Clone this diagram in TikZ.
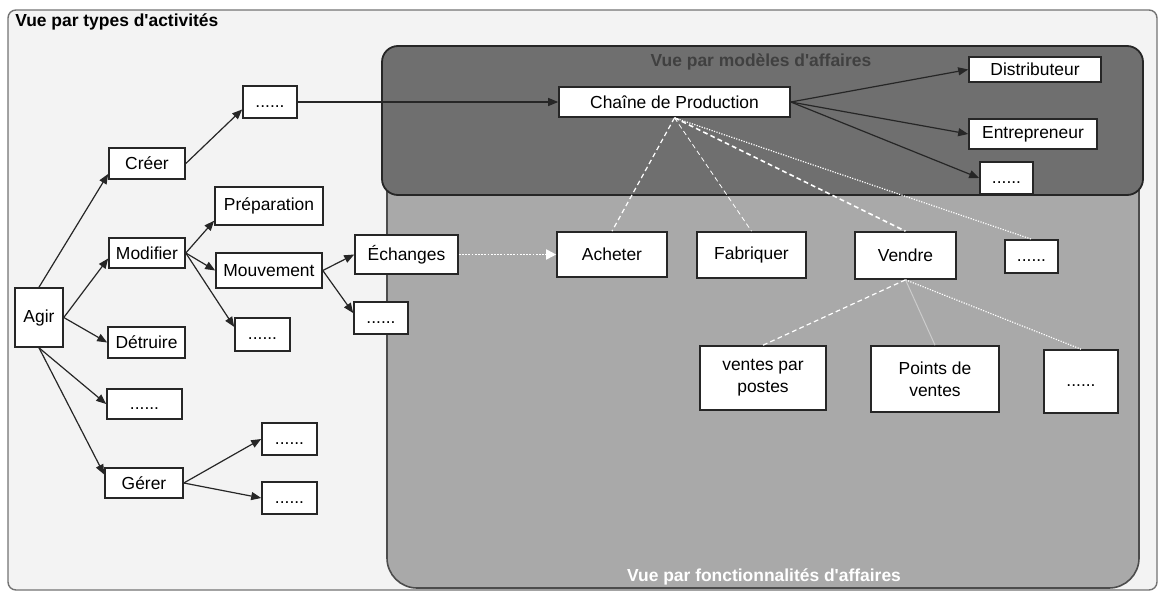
\documentclass[tikz,border=0pt]{standalone}
\usepackage{fontspec}
\setmainfont{Liberation Sans}
\usetikzlibrary{arrows.meta}

\definecolor{fondvue}{HTML}{F3F3F3}
\definecolor{fonce}{HTML}{6F6F6F}
\definecolor{clair}{HTML}{A9A9A9}

\tikzset{
  boite/.style={draw=black!85, fill=white, line width=0.4mm, inner sep=0pt,
    align=center, font=\fontsize{12.4}{15.5}\selectfont},
  points/.style={boite, text height=1.45ex, text depth=0pt},
  fleche/.style={draw=black!85, line width=0.3mm, -{Triangle[length=2.5mm,width=2mm]}},
  lien/.style={draw=white, line width=0.3mm, dash pattern=on 1.2mm off 0.8mm},
  titre/.style={font=\bfseries\fontsize{12.4}{14}\selectfont, inner sep=0pt}
}

\begin{document}
\begin{tikzpicture}[x=0.25mm, y=-0.25mm]
\useasboundingbox (0,0) rectangle (1161,592);
% les trois vues
\draw[fill=fondvue, draw=black!55, line width=0.35mm, rounded corners=2mm] (8,10) rectangle (1157,590);
\filldraw[fill=clair, draw=black!70, line width=0.4mm, rounded corners=7.5mm] (387,150) -- (387,588) -- (1139,588) -- (1139,150);
\draw[fill=fonce, draw=black!85, line width=0.45mm, rounded corners=4mm] (382,46) rectangle (1143,195);
\node[titre, anchor=west] (vtypes) at (15,22) {Vue par types d\textquotesingle activités};
\node[titre, text=black!75] (vmodeles) at (761,62) {Vue par modèles d\textquotesingle affaires};
\node[titre, text=white] (vfonctions) at (764,577) {Vue par fonctionnalités d\textquotesingle affaires};

% types d'activites
\node[boite, minimum width=12mm, minimum height=14.75mm] (agir) at (39,317.5) {Agir};
\node[boite, minimum width=19mm, minimum height=7.75mm] (creer) at (147,163.5) {Créer};
\node[boite, minimum width=19mm, minimum height=7.5mm] (modifier) at (147,253) {Modifier};
\node[boite, minimum width=19.25mm, minimum height=7.75mm] (detruire) at (146.5,342.5) {Détruire};
\node[points, minimum width=18.75mm, minimum height=7.5mm] (pointsagir) at (144.5,404) {......};
\node[boite, minimum width=19.5mm, minimum height=7.5mm] (gerer) at (144,483) {Gérer};
\node[points, minimum width=13.5mm, minimum height=8mm] (pointscreer) at (270,102) {......};
\node[boite, minimum width=27mm, minimum height=9.5mm] (preparation) at (269,206) {Préparation};
\node[boite, minimum width=26.5mm, minimum height=8.75mm] (mouvement) at (269,270.5) {Mouvement};
\node[points, minimum width=13.75mm, minimum height=8.25mm] (pointsmodif) at (262.5,334.5) {......};
\node[boite, minimum width=25.75mm, minimum height=9.75mm] (echanges) at (406.5,254.5) {Échanges};
\node[points, minimum width=13.5mm, minimum height=8mm] (pointsmouv) at (381,318) {......};
\node[points, minimum width=13.75mm, minimum height=8mm] (pointsgerer1) at (289.5,439) {......};
\node[points, minimum width=13.75mm, minimum height=8mm] (pointsgerer2) at (289.5,498) {......};

% modeles d'affaires
\node[boite, minimum width=57.75mm, minimum height=7.5mm] (chaine) at (674.5,102) {Chaîne de Production};
\node[boite, minimum width=33mm, minimum height=6.25mm] (distributeur) at (1035,69.5) {Distributeur};
\node[boite, minimum width=32mm, minimum height=7.5mm] (entrepreneur) at (1033,134) {Entrepreneur};
\node[points, minimum width=13.25mm, minimum height=8mm] (pointsmodele) at (1006.5,178) {......};

% fonctionnalites d'affaires
\node[boite, minimum width=27.5mm, minimum height=11.25mm] (acheter) at (612,254.5) {Acheter};
\node[boite, minimum width=27.25mm, minimum height=11.5mm] (fabriquer) at (751.5,255) {Fabriquer};
\node[boite, minimum width=25.25mm, minimum height=11.75mm] (vendre) at (905.5,255.5) {Vendre};
\node[points, minimum width=13.25mm, minimum height=8.25mm] (pointsfonction) at (1031.5,256.5) {......};
\node[boite, minimum width=31.5mm, minimum height=16mm] (postes) at (763,378) {ventes par\\postes};
\node[boite, minimum width=32mm, minimum height=16.5mm] (pointsvente) at (935,379) {Points de\\ventes};
\node[points, minimum width=18.5mm, minimum height=15.75mm] (pointsvendre) at (1081,381.5) {......};

% fleches
\draw[fleche] (agir.north) -- (creer.195);
\draw[fleche] (agir.east) -- (modifier.188);
\draw[fleche] (agir.east) -- (detruire.west);
\draw[fleche] (agir.south) -- (pointsagir.west);
\draw[fleche] (agir.south) -- (gerer.168);
\draw[fleche] (creer.east) -- (pointscreer.195);
\draw[fleche] (pointscreer.east) -- (chaine.west);
\draw[fleche] (modifier.east) -- (preparation.195);
\draw[fleche] (modifier.east) -- (mouvement.west);
\draw[fleche] (modifier.east) -- (pointsmodif.165);
\draw[fleche] (mouvement.east) -- (echanges.west);
\draw[fleche] (mouvement.east) -- (pointsmouv.170);
\draw[fleche] (gerer.east) -- (pointsgerer1.west);
\draw[fleche] (gerer.east) -- (pointsgerer2.west);
\draw[fleche] (chaine.east) -- (distributeur.west);
\draw[fleche] (chaine.east) -- (entrepreneur.west);
\draw[fleche] (chaine.east) -- (pointsmodele.west);
\draw[draw=white, line width=0.45mm, densely dotted, -{Triangle[length=2.5mm,width=2.5mm,fill=white]}] (echanges.east) -- (acheter.west);

% liens pointilles
\draw[lien] (chaine.south) -- (acheter.north);
\draw[lien, line width=0.2mm] (chaine.south) -- (fabriquer.north);
\draw[lien, line width=0.4mm] (chaine.south) -- (vendre.north);
\draw[draw=white, line width=0.3mm, densely dotted] (chaine.south) -- (pointsfonction.north);
\draw[lien] (vendre.south) -- (postes.north);
\draw[draw=black!20, line width=0.25mm] (vendre.south) -- (pointsvente.north);
\draw[draw=white, line width=0.3mm, densely dotted] (vendre.south) -- (pointsvendre.north);
\end{tikzpicture}
\end{document}
